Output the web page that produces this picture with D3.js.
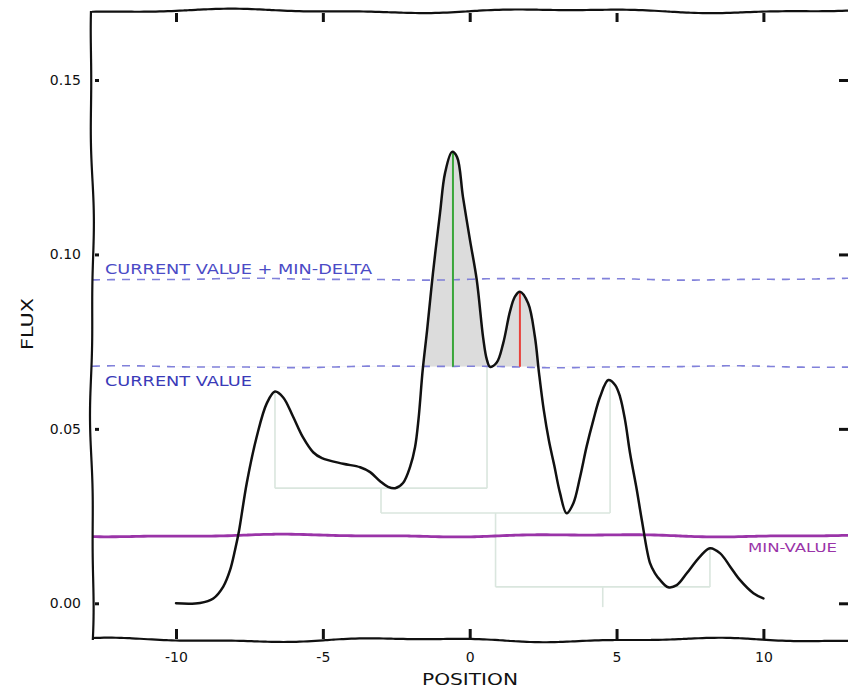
<!DOCTYPE html>
<html><head><meta charset="utf-8">
<script src="https://cdn.jsdelivr.net/npm/d3@7"></script>
<style>body{margin:0;background:#fff;} svg{display:block;} text{font-family:"DejaVu Sans",sans-serif;}</style>
</head><body><svg id="c" width="848" height="689"></svg>
<script>
// ---- data ----
const curveX = [-10.0,-9.18,-8.73,-8.39,-8.16,-7.99,-7.86,-7.59,-7.25,-6.91,-6.63,-6.35,-6.02,-5.68,-5.33,-5.03,-4.31,-3.73,-3.39,-3.05,-2.78,-2.54,-2.27,-2.03,-1.86,-1.74,-1.60,-1.45,-1.25,-1.01,-0.84,-0.60,-0.43,-0.23,0.01,0.24,0.46,0.58,0.69,0.92,1.14,1.37,1.54,1.71,1.99,2.22,2.36,2.52,2.70,2.88,3.07,3.30,3.53,3.76,3.98,4.21,4.44,4.72,4.95,5.12,5.29,5.46,5.69,5.86,6.14,6.31,6.48,6.76,7.05,7.39,7.84,8.18,8.53,8.87,9.20,9.66,10.0];
const curveY = [0.0000,0.0001,0.0014,0.0048,0.0095,0.0153,0.0205,0.0345,0.0478,0.0573,0.0607,0.0590,0.0536,0.0476,0.0433,0.0416,0.0400,0.0390,0.0376,0.0350,0.0334,0.0330,0.0345,0.0391,0.0448,0.0530,0.0669,0.0783,0.0947,0.1119,0.1233,0.1294,0.1279,0.1165,0.1041,0.0927,0.0760,0.0700,0.0678,0.0690,0.0745,0.0836,0.0879,0.0893,0.0860,0.0764,0.0660,0.0555,0.0465,0.0395,0.0318,0.0258,0.0287,0.0363,0.0449,0.0525,0.0592,0.0640,0.0626,0.0592,0.0525,0.0430,0.0325,0.0239,0.0115,0.0086,0.0067,0.0046,0.0052,0.0086,0.0134,0.0158,0.0143,0.0105,0.0067,0.0029,0.0014];
const xTicks = [-10,-5,0,5,10];
const xTickLabels = ["-10","-5","0","5","10"];
const yTicks = [0,0.05,0.10,0.15];
const yTickLabels = ["0.00","0.05","0.10","0.15"];
const currentValue = 0.0678;
const minDelta = 0.0251;
const minValue = 0.0194;
const acceptedPeak = [-0.57, 0.1294];
const rejectedPeak = [1.71, 0.0892];
const leafX = [-6.63, 0.59, 4.78, 8.18];
const leafTop = [0.0606, 0.0678, 0.0640, 0.0158];
const leafBottom = [0.0330, 0.0330, 0.0259, 0.0047];
const mergeLeftX = [-6.63, -3.02, 0.88];
const mergeRightX = [0.59, 4.78, 8.18];
const mergeLevel = [0.0330, 0.0259, 0.0047];
const mergeBottom = [0.0259, 0.0047, -0.0011];
const labels = {upper:"CURRENT VALUE + MIN-DELTA", lower:"CURRENT VALUE", min:"MIN-VALUE", x:"POSITION", y:"FLUX"};

// ---- layout ----
const L = 92, R = 854, T = 11, B = 640;
const svg = d3.select("#c");
const x = d3.scaleLinear().domain([-10, 10]).range([176, 763.4]);
const y = d3.scaleLinear().domain([0, 0.15]).range([603.3, 80]);

function wob(pts, amp, wl, ph) {
  const out = []; let s = 0;
  for (let i = 0; i < pts.length - 1; i++) {
    const [x0, y0] = pts[i], [x1, y1] = pts[i + 1];
    const len = Math.hypot(x1 - x0, y1 - y0), n = Math.max(1, Math.ceil(len / 4));
    const nx = -(y1 - y0) / len, ny = (x1 - x0) / len;
    for (let k = 0; k <= n; k++) {
      if (k === n && i < pts.length - 2) break;
      const t = k / n, ss = s + t * len;
      const o = amp * (Math.sin(2 * Math.PI * ss / wl + ph) + 0.45 * Math.sin(2 * Math.PI * ss / (wl * 0.41) + ph * 2.3));
      out.push([x0 + t * (x1 - x0) + nx * o, y0 + t * (y1 - y0) + ny * o]);
    }
    s += len;
  }
  return out;
}
const pl = d3.line().curve(d3.curveBasis);
const smooth = d3.curveCatmullRom.alpha(0.5);

// clip to plot frame
svg.append("clipPath").attr("id", "frame").append("rect").attr("x", L).attr("y", T).attr("width", R - L).attr("height", B - T);
svg.append("clipPath").attr("id", "above").append("rect").attr("x", L).attr("y", T).attr("width", R - L).attr("height", y(currentValue) - T);

const plot = svg.append("g").attr("clip-path", "url(#frame)");

// shaded region above current value
const area = d3.area().curve(smooth)
  .x((d, i) => x(curveX[i])).y0(y(currentValue)).y1((d) => y(d));
plot.append("path").datum(curveY).attr("d", area).attr("fill", "#dcdcdc").attr("clip-path", "url(#above)");

// dendrogram
const dcol = "#dae6de";
const dg = plot.append("g").attr("stroke", dcol).attr("stroke-width", 1.6).attr("fill", "none");
leafX.forEach((lx, i) => dg.append("line").attr("x1", x(lx)).attr("x2", x(lx)).attr("y1", y(leafTop[i])).attr("y2", y(leafBottom[i])));
mergeLevel.forEach((lv, i) => {
  dg.append("line").attr("x1", x(mergeLeftX[i])).attr("x2", x(mergeRightX[i])).attr("y1", y(lv)).attr("y2", y(lv));
  const mx = (mergeLeftX[i] + mergeRightX[i]) / 2;
  dg.append("line").attr("x1", x(mx)).attr("x2", x(mx)).attr("y1", y(lv)).attr("y2", y(mergeBottom[i]));
});

// dashed threshold lines
[[currentValue + minDelta, 1.3], [currentValue, 4.1]].forEach(([v, ph]) => {
  plot.append("path").attr("d", pl(wob([[L, y(v)], [R, y(v)]], 0.7, 300, ph)))
    .attr("fill", "none").attr("stroke", "#7373d6").attr("stroke-width", 1.6).attr("stroke-dasharray", "8,7").attr("opacity", 0.9);
});

// peak markers
plot.append("line").attr("x1", x(acceptedPeak[0])).attr("x2", x(acceptedPeak[0])).attr("y1", y(currentValue)).attr("y2", y(acceptedPeak[1]))
  .attr("stroke", "#3aa63a").attr("stroke-width", 2);
plot.append("line").attr("x1", x(rejectedPeak[0])).attr("x2", x(rejectedPeak[0])).attr("y1", y(currentValue)).attr("y2", y(rejectedPeak[1]))
  .attr("stroke", "#e8413b").attr("stroke-width", 2);

// min value line
plot.append("path").attr("d", pl(wob([[L, y(minValue)], [R, y(minValue)]], 1.0, 300, 0.6)))
  .attr("fill", "none").attr("stroke", "#9a34a8").attr("stroke-width", 2.8);

// flux curve
const line = d3.line().curve(smooth).x((d, i) => x(curveX[i])).y((d) => y(d));
plot.append("path").datum(curveY).attr("d", line).attr("fill", "none").attr("stroke", "#111").attr("stroke-width", 2.5).attr("stroke-linecap", "round").attr("stroke-linejoin", "round");

// labels
svg.append("text").attr("x", 105).attr("y", y(currentValue + minDelta) - 5).attr("font-size", 14).attr("fill", "#4b4bc6")
  .attr("textLength", 267).attr("lengthAdjust", "spacingAndGlyphs").text(labels.upper);
svg.append("text").attr("x", 105).attr("y", y(currentValue) + 19).attr("font-size", 14).attr("fill", "#3a3ab8")
  .attr("textLength", 147).attr("lengthAdjust", "spacingAndGlyphs").text(labels.lower);
svg.append("text").attr("x", 748).attr("y", y(minValue) + 16).attr("font-size", 13).attr("fill", "#9a34a8")
  .attr("textLength", 89).attr("lengthAdjust", "spacingAndGlyphs").text(labels.min);

// axes (ticks inward on all four sides)
function styleAxis(g) {
  g.select(".domain").remove();
  g.selectAll(".tick line").attr("stroke", "#111").attr("stroke-width", 3);
  g.selectAll(".tick text").attr("fill", "#111").attr("font-size", 14).attr("font-family", "DejaVu Sans");
}
svg.append("g").attr("transform", `translate(0,${B - 1})`)
  .call(d3.axisBottom(x).tickValues(xTicks).tickFormat((d, i) => xTickLabels[i]).tickSize(-10).tickPadding(13)).call(styleAxis);
svg.append("g").attr("transform", `translate(0,${T + 2})`)
  .call(d3.axisTop(x).tickValues(xTicks).tickFormat("").tickSize(-9)).call(styleAxis);
svg.append("g").attr("transform", `translate(${L + 3},0)`)
  .call(d3.axisLeft(y).tickValues(yTicks).tickFormat((d, i) => yTickLabels[i]).tickSize(-4).tickPadding(14)).call(styleAxis);
svg.append("g").attr("transform", `translate(${R - 1},0)`)
  .call(d3.axisRight(y).tickValues(yTicks).tickFormat("").tickSize(-14)).call(styleAxis);

// wobbly spines
const sp = svg.append("g").attr("fill", "none").attr("stroke", "#111").attr("stroke-width", 2.2);
sp.append("path").attr("d", pl(wob([[L, B], [L, T]], 1.4, 330, 0.3)));
sp.append("path").attr("d", pl(wob([[L, T], [R, T]], 1.6, 330, 2.0)));
sp.append("path").attr("d", pl(wob([[L, B], [R, B]], 1.6, 300, 4.4)));
sp.append("path").attr("d", pl(wob([[R, T], [R, B]], 1.0, 330, 1.1)));

// axis titles
svg.append("text").attr("x", 470).attr("y", 685).attr("text-anchor", "middle").attr("font-size", 15).attr("fill", "#111")
  .attr("textLength", 96).attr("lengthAdjust", "spacingAndGlyphs").text(labels.x);
svg.append("text").attr("transform", "translate(33,324) rotate(-90)").attr("text-anchor", "middle").attr("font-size", 15).attr("fill", "#111")
  .attr("textLength", 52).attr("lengthAdjust", "spacingAndGlyphs").text(labels.y);
</script>
</body></html>
